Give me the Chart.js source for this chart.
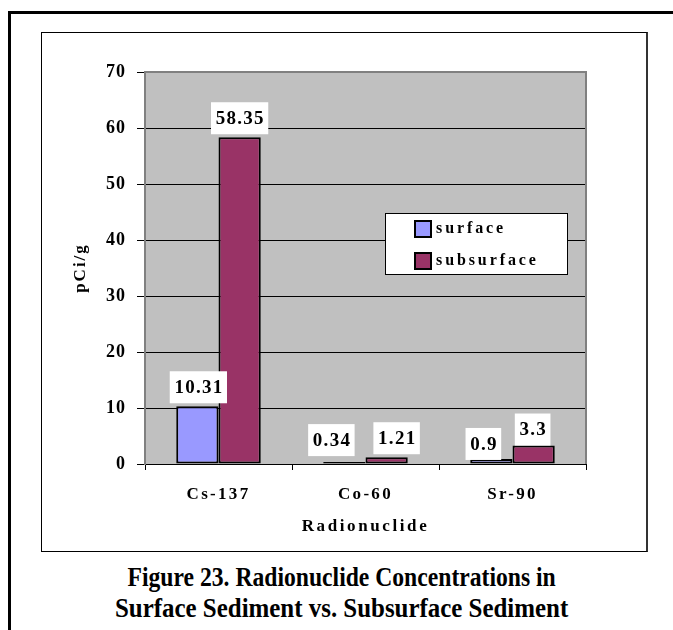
<!DOCTYPE html>
<html>
<head>
<meta charset="utf-8">
<script src="https://cdn.jsdelivr.net/npm/chart.js@4"></script>
<style>
    body { margin: 0; background: #fff; width: 673px; height: 630px; position: relative; overflow: hidden; font-family: 'Liberation Serif', serif; }
    #marco { position: absolute; left: 8px; top: 11px; width: 700px; height: 700px; border-left: 3px solid #000; border-top: 3px solid #000; }
    #caja { position: absolute; left: 41px; top: 32px; width: 607px; height: 520px; box-sizing: border-box; border: 1px solid #000; border-right: 2px solid #333; }
    #contenedor { position: absolute; left: 41px; top: 32px; width: 607px; height: 520px; }
    #titulo { position: absolute; left: 38px; width: 607px; top: 562px; font-weight: bold; font-size: 27px; line-height: 31px; color: #000; }
    #titulo .linea { display: block; width: max-content; margin: 0 auto; white-space: nowrap; transform-origin: center; }
</style>
</head>
<body>
<div id="marco"></div>
<div id="caja"></div>
<div id="contenedor"><canvas id="grafico"></canvas></div>
<div id="titulo"><span class="linea">Figure 23. Radionuclide Concentrations in</span><span class="linea">Surface Sediment vs. Subsurface Sediment</span></div>
<script>
const categorias = ['Cs-137', 'Co-60', 'Sr-90'];
const superficie = [10.31, 0.34, 0.9];
const subsuperficie = [58.35, 1.21, 3.3];
const marcasY = [0, 10, 20, 30, 40, 50, 60, 70];

// corrimientos de las etiquetas (px) para que no se pisen, como en el original
const corrimientoX = [[1, -13, -8], [0, 10, -1]];
const corrimientoY = [[0, -3, 4], [0, 0, 3]];
const anchosTitulo = [428, 453];

const fuente = 'Liberation Serif';

document.addEventListener('DOMContentLoaded', function() {
    ajustarTitulo();
    inicializarGrafico();
});

function ajustarTitulo() {
    document.querySelectorAll('#titulo .linea').forEach((linea, i) => {
        linea.style.transform = 'scaleX(' + (anchosTitulo[i] / linea.offsetWidth) + ')';
    });
}

// envuelve un metodo de dibujo de la escala para cambiar el espaciado de letras
function espaciar(chart, escala, metodo, valor) {
    if (escala['_esp_' + metodo]) return;
    const original = escala[metodo].bind(escala);
    escala[metodo] = function(area) {
        const ctx = chart.ctx;
        const antes = ctx.letterSpacing;
        ctx.letterSpacing = valor;
        original(area);
        ctx.letterSpacing = antes;
    };
    escala['_esp_' + metodo] = true;
}

const fondoPlot = {
    id: 'fondoPlot',
    afterLayout(chart) {
        espaciar(chart, chart.scales.y, 'drawLabels', '1px');
        espaciar(chart, chart.scales.y, 'drawTitle', '2px');
        espaciar(chart, chart.scales.x, 'drawLabels', '2.3px');
        espaciar(chart, chart.scales.x, 'drawTitle', '2.6px');
    },
    beforeDraw(chart) {
        const { ctx, chartArea: a } = chart;
        ctx.save();
        ctx.fillStyle = '#C0C0C0';
        ctx.fillRect(a.left, a.top, a.right - a.left, a.bottom - a.top);
        ctx.restore();
    },
    beforeDatasetsDraw(chart) {
        const { ctx, chartArea: a } = chart;
        ctx.save();
        ctx.strokeStyle = '#808080';
        ctx.lineWidth = 2;
        ctx.beginPath();
        ctx.moveTo(a.left, a.top);
        ctx.lineTo(a.right, a.top);
        ctx.lineTo(a.right, a.bottom);
        ctx.stroke();
        ctx.restore();
    }
};

const etiquetas = {
    id: 'etiquetas',
    afterDatasetsDraw(chart) {
        const ctx = chart.ctx;
        ctx.save();
        ctx.letterSpacing = '1.3px';
        ctx.font = 'bold 19px "' + fuente + '"';
        ctx.textAlign = 'center';
        ctx.textBaseline = 'middle';
        chart.data.datasets.forEach((ds, i) => {
            chart.getDatasetMeta(i).data.forEach((barra, j) => {
                const texto = String(ds.data[j]);
                const ancho = ctx.measureText(texto).width + 8;
                const cx = barra.x + corrimientoX[i][j];
                const abajo = barra.y - 3 + corrimientoY[i][j];
                ctx.fillStyle = '#fff';
                ctx.fillRect(cx - ancho / 2, abajo - 32, ancho, 32);
                ctx.fillStyle = '#000';
                ctx.fillText(texto, cx + 0.65, abajo - 15);
            });
        });
        ctx.restore();
    }
};

const leyenda = {
    id: 'leyenda',
    afterDraw(chart) {
        const ctx = chart.ctx;
        const x = 344, y = 181, w = 182, h = 61;
        ctx.save();
        ctx.fillStyle = '#fff';
        ctx.fillRect(x, y, w, h);
        ctx.strokeStyle = '#000';
        ctx.lineWidth = 1;
        ctx.strokeRect(x + 0.5, y + 0.5, w, h);
        ctx.font = 'bold 16px "' + fuente + '"';
        ctx.letterSpacing = '2.9px';
        ctx.textBaseline = 'middle';
        chart.data.datasets.forEach((ds, i) => {
            const cy = y + 16 + i * 32;
            ctx.fillStyle = ds.backgroundColor;
            ctx.fillRect(x + 30, cy - 8, 16, 16);
            ctx.strokeStyle = '#000';
            ctx.lineWidth = 2;
            ctx.strokeRect(x + 30, cy - 8, 16, 16);
            ctx.fillStyle = '#000';
            ctx.fillText(ds.label, x + 51, cy);
        });
        ctx.restore();
    }
};

function inicializarGrafico() {
    const ctx = document.getElementById('grafico').getContext('2d');

    new Chart(ctx, {
        type: 'bar',
        data: {
            labels: categorias,
            datasets: [{
                label: 'surface',
                data: superficie,
                backgroundColor: '#9999FF',
                borderColor: '#000',
                borderWidth: 2,
                borderSkipped: false
            }, {
                label: 'subsurface',
                data: subsuperficie,
                backgroundColor: '#993366',
                borderColor: '#000',
                borderWidth: 2,
                borderSkipped: false
            }]
        },
        options: {
            responsive: true,
            maintainAspectRatio: false,
            animation: false,
            datasets: {
                bar: {
                    barPercentage: 1,
                    categoryPercentage: 0.575
                }
            },
            layout: {
                padding: { left: 0, top: 40, right: 62, bottom: 0 }
            },
            scales: {
                x: {
                    afterFit: (s) => { s.height = 88; },
                    grid: {
                        drawOnChartArea: false,
                        offset: true,
                        tickLength: 6,
                        color: '#000'
                    },
                    border: { color: '#000', width: 1 },
                    ticks: {
                        color: '#000',
                        padding: 14,
                        font: { family: fuente, size: 17, weight: 'bold' }
                    },
                    title: {
                        display: true,
                        text: 'Radionuclide',
                        color: '#000',
                        padding: { top: 0, bottom: 15 },
                        font: { family: fuente, size: 17, weight: 'bold' }
                    }
                },
                y: {
                    min: marcasY[0],
                    max: marcasY[marcasY.length - 1],
                    afterFit: (s) => { s.width = 104; },
                    afterBuildTicks: (s) => { s.ticks = marcasY.map(v => ({ value: v })); },
                    grid: {
                        color: '#000',
                        lineWidth: 1,
                        tickLength: 8
                    },
                    border: { color: '#808080', width: 2 },
                    ticks: {
                        color: '#000',
                        padding: 11,
                        font: { family: fuente, size: 18, weight: 'bold' }
                    },
                    title: {
                        display: true,
                        text: 'pCi/g',
                        color: '#000',
                        padding: { top: 29, bottom: 0 },
                        font: { family: fuente, size: 17, weight: 'bold' }
                    }
                }
            },
            plugins: {
                legend: { display: false },
                tooltip: { enabled: false }
            }
        },
        plugins: [fondoPlot, etiquetas, leyenda]
    });
}
</script>
</body>
</html>
